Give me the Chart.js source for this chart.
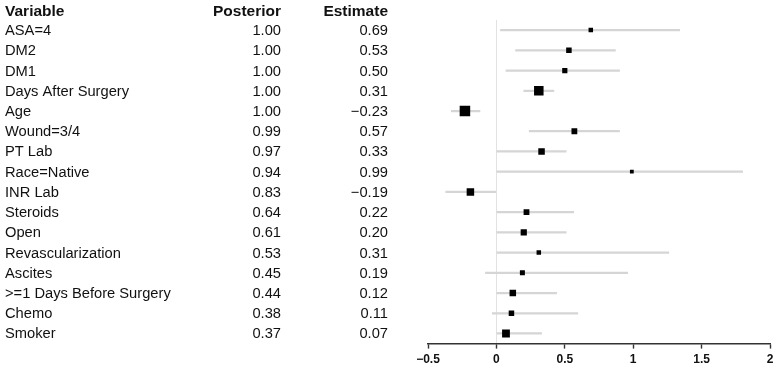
<!DOCTYPE html>
<html>
<head>
<meta charset="utf-8">
<script src="https://cdn.jsdelivr.net/npm/chart.js@4/dist/chart.umd.min.js"></script>
<style>
html,body{margin:0;padding:0;background:#fff;}
#wrap{width:777px;height:372px;position:relative;}
</style>
</head>
<body>
<div id="wrap"><canvas id="c"></canvas></div>
<script>
const variables = ["ASA=4","DM2","DM1","Days After Surgery","Age","Wound=3/4","PT Lab","Race=Native","INR Lab","Steroids","Open","Revascularization","Ascites",">=1 Days Before Surgery","Chemo","Smoker"];
const posterior = [1.00,1.00,1.00,1.00,1.00,0.99,0.97,0.94,0.83,0.64,0.61,0.53,0.45,0.44,0.38,0.37];
const estimate  = [0.69,0.53,0.50,0.31,-0.23,0.57,0.33,0.99,-0.19,0.22,0.20,0.31,0.19,0.12,0.11,0.07];
const lower     = [0.03,0.14,0.07,0.20,-0.33,0.24,0.00,0.00,-0.37,0.00,0.00,0.00,-0.08,0.00,-0.03,0.00];
const upper     = [1.34,0.87,0.90,0.42,-0.12,0.90,0.51,1.80,0.00,0.565,0.51,1.26,0.96,0.44,0.595,0.33];
const weight    = [4.5,5.5,5.2,9.5,10.5,5.8,6.5,3.8,7.5,5.8,6.2,4.5,5,6.5,5.5,7.8];
const xTicks    = [-0.5,0,0.5,1,1.5,2];
const headers   = ["Variable","Posterior","Estimate"];

const fmtNum = v => (v < 0 ? "\u2212" : "") + Math.abs(v).toFixed(2);
const fmtTick = v => (v < 0 ? "\u2212" : "") + String(Math.abs(v));

const FONT = '"Liberation Sans", Arial, Helvetica, sans-serif';

const tablePlugin = {
  id: 'table',
  afterDraw(chart) {
    const ctx = chart.ctx;
    const y = chart.scales.y;
    ctx.save();
    ctx.fillStyle = '#111';
    ctx.textBaseline = 'alphabetic';
    ctx.font = 'bold 15.5px ' + FONT;
    ctx.textAlign = 'left';
    ctx.fillText(headers[0], 5, 15.5);
    ctx.textAlign = 'right';
    ctx.fillText(headers[1], 281, 15.5);
    ctx.fillText(headers[2], 388, 15.5);
    ctx.font = '14.7px ' + FONT;
    variables.forEach((v, i) => {
      const py = y.getPixelForValue(i) + 5;
      ctx.textAlign = 'left';
      ctx.fillText(v, 5, py);
      ctx.textAlign = 'right';
      ctx.fillText(posterior[i].toFixed(2), 281, py);
      ctx.fillText(fmtNum(estimate[i]), 388, py);
    });
    ctx.restore();
  }
};

new Chart(document.getElementById('c'), {
  type: 'bar',
  data: {
    labels: variables,
    datasets: [
      {
        type: 'line',
        data: estimate,
        showLine: false,
        pointStyle: 'rect',
        pointRadius: weight.map(w => w / Math.SQRT2),
        pointBackgroundColor: '#000',
        pointBorderWidth: 0,
        borderColor: '#000',
        order: 0
      },
      {
        type: 'bar',
        data: lower.map((l, i) => [l, upper[i]]),
        backgroundColor: '#d5d5d5',
        barThickness: 1.6,
        borderWidth: 0,
        order: 1
      }
    ]
  },
  options: {
    indexAxis: 'y',
    responsive: true,
    maintainAspectRatio: false,
    animation: false,
    devicePixelRatio: 1,
    layout: { padding: { left: 428, right: 7, top: 20, bottom: 2 } },
    plugins: { legend: { display: false }, tooltip: { enabled: false } },
    scales: {
      y: {
        type: 'category',
        display: false,
        offset: true
      },
      x: {
        type: 'linear',
        min: -0.5,
        max: 2,
        afterBuildTicks: s => { s.ticks = xTicks.map(v => ({ value: v })); },
        border: { display: true, color: '#333', width: 1.4 },
        grid: {
          drawOnChartArea: true,
          color: c => (c.tick && c.tick.value === 0) ? '#e2e2e2' : 'rgba(0,0,0,0)',
          lineWidth: 1,
          drawTicks: true,
          tickLength: 5,
          tickColor: '#333',
          tickWidth: 1.4
        },
        ticks: {
          color: '#111',
          font: { family: FONT, size: 12, weight: 'bold' },
          padding: 3.5,
          maxRotation: 0,
          autoSkip: false,
          callback: v => fmtTick(v)
        }
      }
    }
  },
  plugins: [tablePlugin]
});
</script>
</body>
</html>
